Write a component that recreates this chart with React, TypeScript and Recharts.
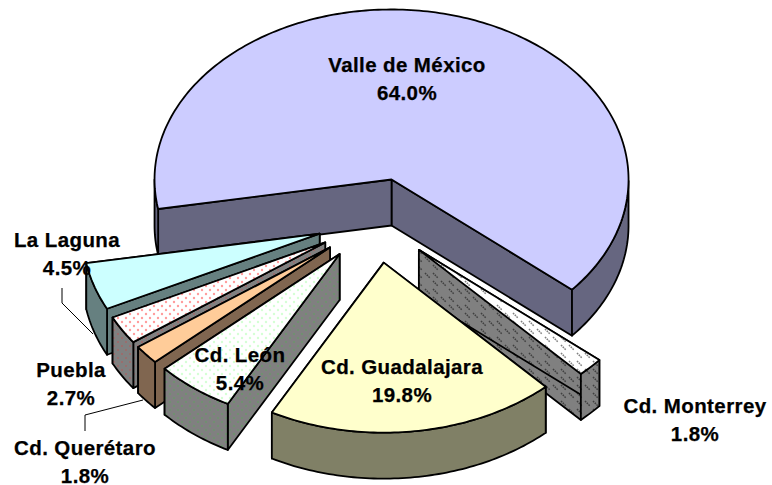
import React from "react";
import { PieChart, Pie } from "recharts";

const regions = ["Valle de México", "La Laguna", "Puebla", "Cd. Querétaro", "Cd. León", "Cd. Guadalajara", "Cd. Monterrey"];
const shares = [64.0, 4.5, 2.7, 1.8, 5.4, 19.8, 1.8];
const data = regions.map((name, i) => ({ name, value: shares[i] }));

const RX = 237;
const RY = 170;
const DEPTH = 46;
const EXPLODE = 0.25;
const STROKE = "#000";
const SW = 1.8;
const START = -40.4;

const topFill: Record<string, string> = {
  "Valle de México": "#CCCCFF",
  "La Laguna": "#CCFFFF",
  Puebla: "url(#topPuebla)",
  "Cd. Querétaro": "#FFCC99",
  "Cd. León": "url(#topLeon)",
  "Cd. Guadalajara": "#FFFFCC",
  "Cd. Monterrey": "url(#topMonterrey)",
};
const sideFill: Record<string, string> = {
  "Valle de México": "#666680",
  "La Laguna": "#668080",
  Puebla: "url(#sidePuebla)",
  "Cd. Querétaro": "#806650",
  "Cd. León": "url(#sideLeon)",
  "Cd. Guadalajara": "#808066",
  "Cd. Monterrey": "url(#sideMonterrey)",
};
const labelCentre: Record<string, [number, number]> = {
  "Valle de México": [407, 65],
  "La Laguna": [67, 240],
  Puebla: [71, 370],
  "Cd. Querétaro": [85, 448],
  "Cd. León": [240, 355],
  "Cd. Guadalajara": [402, 367],
  "Cd. Monterrey": [695, 406],
};
const leaders: Record<string, string> = {
  "La Laguna": "M62 288 L62 303 L93 334",
  "Cd. Querétaro": "M85 431 L85 415 L143 400",
};

const pt = (cx: number, cy: number, a: number) => {
  const r = (a * Math.PI) / 180;
  return [cx + RX * Math.cos(r), cy - RY * Math.sin(r)];
};
const d = (pts: number[][]) => "M" + pts.map((p) => `${p[0].toFixed(2)} ${p[1].toFixed(2)}`).join(" L") + " Z";

function Slice(props: any, only: (n: string) => boolean) {
  const { cx, cy, startAngle, endAngle, name } = props;
  if (!only(name)) return <g />;
  const mid = (startAngle + endAngle) / 2;
  const rad = (mid * Math.PI) / 180;
  const ox = cx + EXPLODE * RX * Math.cos(rad);
  const oy = cy - EXPLODE * RY * Math.sin(rad);
  const arc: number[][] = [];
  const n = Math.ceil(Math.abs(endAngle - startAngle));
  for (let i = 0; i <= n; i++) arc.push(pt(ox, oy, startAngle + ((endAngle - startAngle) * i) / n));
  const down = (p: number[]) => [p[0], p[1] + DEPTH];
  const apex = [ox, oy];
  const wall = (p: number[]) => d([apex, p, down(p), down(apex)]);
  const runs: number[][][] = [];
  let cur: number[][] = [];
  for (let i = 0; i <= n; i++) {
    const a = startAngle + ((endAngle - startAngle) * i) / n;
    if (Math.sin((a * Math.PI) / 180) <= 0.0001) cur.push(arc[i]);
    else if (cur.length) {
      runs.push(cur);
      cur = [];
    }
  }
  if (cur.length) runs.push(cur);
  const common = { stroke: STROKE, strokeWidth: SW, strokeLinejoin: "round" as const };
  return (
    <g>
      <path d={wall(arc[0])} fill={sideFill[name]} {...common} />
      <path d={wall(arc[n])} fill={sideFill[name]} {...common} />
      {runs.map((r, i) => (
        <path key={i} d={d([...r, ...r.slice().reverse().map(down)])} fill={sideFill[name]} {...common} />
      ))}
      <path d={d([apex, ...arc])} fill={topFill[name]} {...common} />
    </g>
  );
}

function renderLabel(props: any) {
  const { name, value } = props;
  const [x, y] = labelCentre[name];
  const t = {
    x,
    textAnchor: "middle" as const,
    fontFamily: "Liberation Sans",
    fontWeight: 700,
    fontSize: 20.5,
    letterSpacing: 0.4,
    fill: "#000",
    stroke: "#000",
    strokeWidth: 0.25,
  };
  return (
    <g key={name}>
      {leaders[name] && <path d={leaders[name]} fill="none" stroke="#000" strokeWidth={1} />}
      <text {...t} y={y + 7}>{name}</text>
      <text {...t} y={y + 34.5}>{value.toFixed(1)}%</text>
    </g>
  );
}

const dots = (id: string, bg: string, dot: string, s = 4, r = 1.2) => (
  <pattern id={id} width={s * 2} height={s * 2} patternUnits="userSpaceOnUse">
    <rect width={s * 2} height={s * 2} fill={bg} />
    <circle cx={s / 2} cy={s / 2} r={r} fill={dot} />
    <circle cx={(s * 3) / 2} cy={(s * 3) / 2} r={r} fill={dot} />
  </pattern>
);
const dashes = (id: string, bg: string, ink: string) => (
  <pattern id={id} width={32} height={16} patternUnits="userSpaceOnUse">
    <rect width={32} height={16} fill={bg} />
    <path
      d="M1 1 L6 6 M9 1 L14 6 M17 1 L22 6 M17 9 L22 14 M25 9 L30 14 M1 9 L6 14"
      stroke={ink}
      strokeWidth={1.5}
      strokeDasharray="1.6 0.9"
      fill="none"
    />
  </pattern>
);

export default function App() {
  return (
    <div style={{ position: "absolute", left: 0, top: 0 }}>
      <PieChart width={772} height={485} margin={{ top: 0, right: 0, bottom: 0, left: 0 }}>
        <defs>
          {dots("topPuebla", "#FFFFFF", "#FF9C9C")}
          {dots("sidePuebla", "#808080", "#A06868", 4, 1.1)}
          {dots("topLeon", "#FFFFFF", "#D4FFD4")}
          {dots("sideLeon", "#808080", "#6C946C", 4, 1.1)}
          {dashes("topMonterrey", "#FFFFFF", "#808080")}
          {dashes("sideMonterrey", "#808080", "#404040")}
        </defs>
        <Pie
          data={data}
          dataKey="value"
          nameKey="name"
          cx={376}
          cy={220.5}
          outerRadius={RX}
          startAngle={START}
          endAngle={START + 360}
          isAnimationActive={false}
          legendType="none"
          labelLine={false}
          shape={(p: any) => Slice(p, (n) => n !== "Cd. Guadalajara")}
        />
        <Pie
          data={data}
          dataKey="value"
          nameKey="name"
          cx={376}
          cy={220.5}
          outerRadius={RX}
          startAngle={START}
          endAngle={START + 360}
          isAnimationActive={false}
          legendType="none"
          labelLine={false}
          label={renderLabel}
          shape={(p: any) => Slice(p, (n) => n === "Cd. Guadalajara")}
        />
      </PieChart>
    </div>
  );
}
